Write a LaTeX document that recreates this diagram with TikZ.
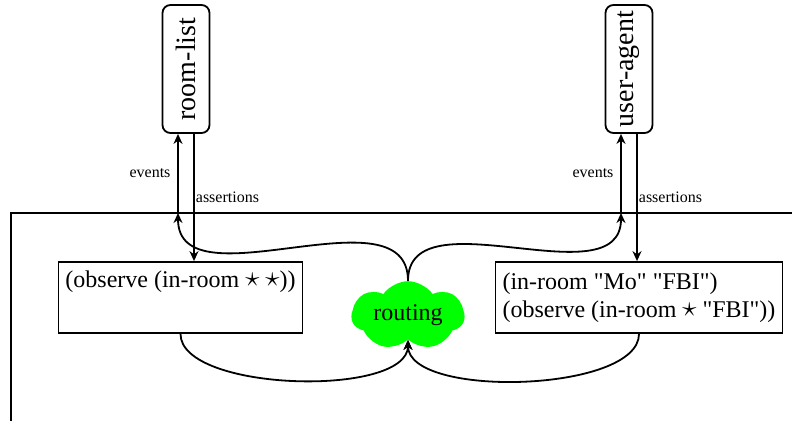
\documentclass[tikz,border=0pt]{standalone}
\usepackage{fontspec}
\setmainfont{Liberation Serif}
\usepackage{graphicx}
\usetikzlibrary{arrows.meta,shapes.symbols}
\definecolor{routegreen}{HTML}{00FF00}
\newcommand{\wild}{\raisebox{0.1ex}{\scalebox{1.2}{$\star$}}}
\newcommand{\qq}[1]{\textquotedbl#1\textquotedbl}
\tikzset{
  line/.style={draw=black, line width=0.9pt},
  flow/.style={line, -{Stealth[length=5pt,width=4.5pt]}},
  actor/.style={line, rounded corners=4pt, minimum width=23.5pt, minimum height=64pt, inner sep=0pt, font=\fontsize{14}{16}\selectfont},
  dataspace/.style={line, align=left, minimum height=35.5pt, inner xsep=3.5pt, font=\fontsize{12}{14}\selectfont},
  router/.style={cloud, cloud puffs=7, cloud puff arc=110, aspect=1.9, fill=routegreen, inner sep=0pt, minimum width=56.5pt, minimum height=32pt, font=\fontsize{12}{13.5}\selectfont},
  lab/.style={font=\fontsize{8}{9}\selectfont},
}

\begin{document}
\begin{tikzpicture}[x=0.5pt,y=0.5pt]
  \useasboundingbox (0,0) rectangle (792,420);
  \draw[line] (11,207) rectangle (900,-60);

  \node[actor] (roomlist) at (186,351) {\rotatebox{90}{room-list}};
  \node[actor] (useragent) at (629,351) {\rotatebox{90}{user-agent}};

  \node[dataspace] (obsleft) at (180.5,122.5) {(observe (in-room \wild{} \wild))\\\strut};
  \node[dataspace] (obsright) at (639,122.5) {(in-room \qq{Mo} \qq{FBI})\\(observe (in-room \wild{} \qq{FBI}))};
  \node[router] (routing) at (408,104.5) {routing};

  \coordinate (evl) at (178,207);
  \coordinate (evr) at (621,207);

  \draw[flow] (routing.north) to[out=90,in=-90] (evl);
  \draw[flow] (routing.north) to[out=90,in=-90] (evr);
  \draw[flow] (evl) -- node[lab,left] {events} (evl |- roomlist.south);
  \draw[flow] (evr) -- node[lab,left] {events} (evr |- useragent.south);
  \draw[flow] ([xshift=4pt]roomlist.south) -- node[lab,right,inner xsep=0.5pt] {assertions} ([xshift=4pt]roomlist.south |- obsleft.north);
  \draw[flow] ([xshift=4pt]useragent.south) -- node[lab,right,inner xsep=0.5pt] {assertions} ([xshift=4pt]useragent.south |- obsright.north);

  \draw[flow] (obsleft.south) to[out=-90,in=-90,looseness=0.65] (routing.south);
  \draw[flow] (obsright.south) to[out=-90,in=-90,looseness=0.65] (routing.south);
\end{tikzpicture}
\end{document}
